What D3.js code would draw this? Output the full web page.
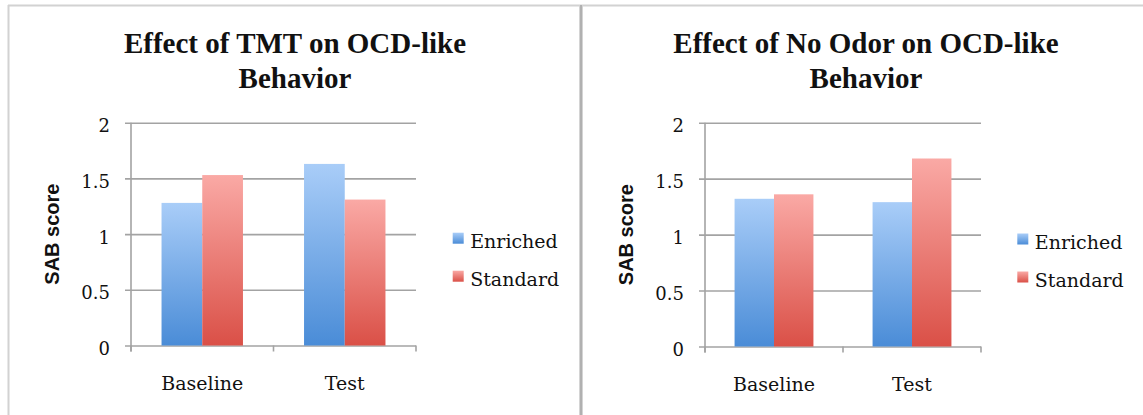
<!DOCTYPE html>
<html>
<head>
<meta charset="utf-8">
<script src="https://cdn.jsdelivr.net/npm/d3@7"></script>
<style>
  html, body { margin: 0; padding: 0; background: #fff; }
  svg { display: block; }
</style>
</head>
<body>
<svg id="chart" width="1143" height="415"></svg>
<script>
// ---- data ----
const categories = ["Baseline", "Test"];
const seriesNames = ["Enriched", "Standard"];
const yTicks = [0, 0.5, 1, 1.5, 2];

const tmtEnriched = [1.28, 1.63];
const tmtStandard = [1.53, 1.31];

const noOdorEnriched = [1.32, 1.29];
const noOdorStandard = [1.36, 1.68];

const tmtTitle = ["Effect of TMT on OCD-like", "Behavior"];
const noOdorTitle = ["Effect of No Odor on OCD-like", "Behavior"];
const yAxisTitle = "SAB score";

// ---- layout ----
const panels = [
  { title: tmtTitle, values: [tmtEnriched, tmtStandard],
    x0: 131, x1: 416, y0: 345.5, y1: 122.7, titleX: 295, yTitleX: 59, legendX: 452.7, legendY: 232.7 },
  { title: noOdorTitle, values: [noOdorEnriched, noOdorStandard],
    x0: 705, x1: 981, y0: 346.5, y1: 122.7, titleX: 866, yTitleX: 633, legendX: 1017.3, legendY: 233.5 }
];

const svg = d3.select("#chart");
const defs = svg.append("defs");

// vertical gradients for the bar fills
const gradStops = {
  Enriched: ["#a9cdf8", "#4a8cd7"],
  Standard: ["#faa9a5", "#da5047"]
};
seriesNames.forEach(name => {
  const g = defs.append("linearGradient")
    .attr("id", "grad-" + name)
    .attr("x1", 0).attr("y1", 0).attr("x2", 0).attr("y2", 1);
  g.append("stop").attr("offset", "0%").attr("stop-color", gradStops[name][0]);
  g.append("stop").attr("offset", "100%").attr("stop-color", gradStops[name][1]);
});

// panel frames
svg.append("line").attr("x1", 8).attr("x2", 1143).attr("y1", 5.5).attr("y2", 5.5)
  .attr("stroke", "#d2d2d2").attr("stroke-width", 2);
svg.append("line").attr("x1", 8.5).attr("x2", 8.5).attr("y1", 5).attr("y2", 415)
  .attr("stroke", "#d2d2d2").attr("stroke-width", 2);
svg.append("line").attr("x1", 581).attr("x2", 581).attr("y1", 5).attr("y2", 415)
  .attr("stroke", "#d4d4d4").attr("stroke-width", 4);
svg.append("line").attr("x1", 581).attr("x2", 581).attr("y1", 5).attr("y2", 415)
  .attr("stroke", "#a8a8a8").attr("stroke-width", 1.6);

const serif = "'DejaVu Serif', serif";
const gridColor = "#a3a3a3";

panels.forEach(p => {
  const W = p.x1 - p.x0;
  const y = d3.scaleLinear().domain([0, 2]).range([p.y0, p.y1]);
  const x = d3.scaleBand().domain(categories).range([p.x0, p.x1])
    .paddingInner(1.5 / 3.5).paddingOuter(0.75 / 3.5);
  const xs = d3.scaleBand().domain(seriesNames).range([0, x.bandwidth()]);

  // title
  const t = svg.append("text")
    .attr("text-anchor", "middle")
    .attr("font-family", "'Liberation Serif', serif")
    .attr("font-weight", "bold")
    .attr("font-size", 29)
    .attr("fill", "#111");
  p.title.forEach((line, i) => {
    t.append("tspan").attr("x", p.titleX).attr("y", 53.3 + i * 35).text(line);
  });

  // y axis with gridlines
  const yAxis = d3.axisLeft(y).tickValues(yTicks).tickFormat(d3.format(""))
    .tickSize(-(W + 6)).tickPadding(15);
  const gy = svg.append("g").attr("transform", `translate(${p.x0 - 6},0)`).call(yAxis);
  gy.select(".domain").remove();
  gy.selectAll(".tick line").attr("stroke", gridColor).attr("stroke-width", 1.6);
  gy.selectAll(".tick text")
    .attr("font-family", serif).attr("font-size", 18).attr("fill", "#111")
    .attr("dy", "0.5em");

  // y axis line
  svg.append("line").attr("x1", p.x0).attr("x2", p.x0)
    .attr("y1", p.y1).attr("y2", p.y0 + 6)
    .attr("stroke", gridColor).attr("stroke-width", 1.6);

  // bars
  seriesNames.forEach((name, si) => {
    svg.append("g").selectAll("rect")
      .data(categories.map((c, ci) => ({ c, v: p.values[si][ci] })))
      .join("rect")
      .attr("x", d => x(d.c) + xs(name))
      .attr("width", xs.bandwidth())
      .attr("y", d => y(d.v))
      .attr("height", d => y(0) - y(d.v))
      .attr("fill", `url(#grad-${name})`);
  });

  // category tick marks at band boundaries
  const step = x.step();
  const bounds = [p.x0, p.x0 + step, p.x1];
  svg.append("g").selectAll("line").data(bounds).join("line")
    .attr("x1", d => d).attr("x2", d => d)
    .attr("y1", p.y0).attr("y2", p.y0 + 6)
    .attr("stroke", gridColor).attr("stroke-width", 1.6);

  // category labels
  const gx = svg.append("g").attr("transform", `translate(0,${p.y0})`)
    .call(d3.axisBottom(x).tickSize(0).tickPadding(31));
  gx.select(".domain").remove();
  gx.selectAll(".tick text")
    .attr("font-family", serif).attr("font-size", 19).attr("fill", "#111");

  // y axis title
  svg.append("text")
    .attr("transform", `translate(${p.yTitleX},${(p.y0 + p.y1) / 2}) rotate(-90)`)
    .attr("text-anchor", "middle")
    .attr("font-family", "'Liberation Sans', sans-serif")
    .attr("font-weight", "bold")
    .attr("font-size", 20)
    .attr("fill", "#111")
    .text(yAxisTitle);

  // legend
  const lg = svg.append("g").selectAll("g").data(seriesNames).join("g")
    .attr("transform", (d, i) => `translate(${p.legendX},${p.legendY + i * 38})`);
  lg.append("rect").attr("width", 11).attr("height", 11)
    .attr("fill", d => `url(#grad-${d})`);
  lg.append("text").attr("x", 17.5).attr("y", 15.5)
    .attr("font-family", serif).attr("font-size", 19).attr("fill", "#111")
    .text(d => d);
});
</script>
</body>
</html>
